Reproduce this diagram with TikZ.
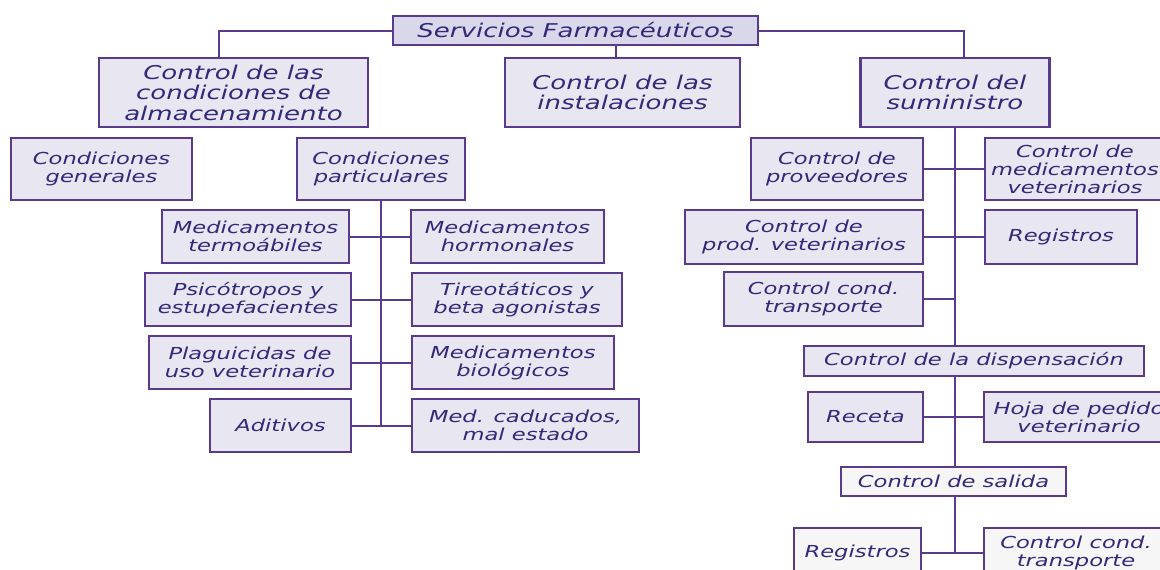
\documentclass[tikz,border=0pt]{standalone}
\usepackage{fontspec}
\setmainfont{DejaVu Sans}[FakeStretch=1.37]
\definecolor{borde}{HTML}{5A3A8C}
\definecolor{relleno}{HTML}{E8E6F1}
\definecolor{rellenoalto}{HTML}{D9D7EA}
\definecolor{rellenoclaro}{HTML}{F6F6F7}
\definecolor{letra}{HTML}{352779}

\begin{document}
\begin{tikzpicture}[x=1pt,y=-1pt,
	caja/.style={draw=borde, line width=2.2pt, fill=relleno, text=letra, align=center, inner sep=0pt, font=\itshape\fontsize{16.5}{18}\selectfont},
	grande/.style={font=\itshape\fontsize{19}{20.5}\selectfont},
	linea/.style={draw=borde, line width=2pt}]

	\useasboundingbox (0,0) rectangle (1160,570);
	\clip (0,0) rectangle (1160,570);

	\node[caja, grande, fill=rellenoalto, minimum width=365, minimum height=29] (serv) at (575.5,30.5) {Servicios Farmacéuticos};
	\node[caja, grande, minimum width=269, minimum height=69] (almac) at (233.5,92.5) {Control de las\\condiciones de\\almacenamiento};
	\node[caja, grande, minimum width=235, minimum height=69] (inst) at (622.5,92.5) {Control de las\\instalaciones};
	\node[caja, grande, minimum width=189, minimum height=69] (sumin) at (955,92.5) {Control del\\suministro};

	\node[caja, minimum width=181, minimum height=62] (cgen) at (101.5,169) {Condiciones\\generales};
	\node[caja, minimum width=168, minimum height=62] (cpart) at (381,169) {Condiciones\\particulares};
	\node[caja, minimum width=187, minimum height=53] (termo) at (255.5,236.5) {Medicamentos\\termoábiles};
	\node[caja, minimum width=193, minimum height=53] (hormo) at (507.5,236.5) {Medicamentos\\hormonales};
	\node[caja, minimum width=206, minimum height=53] (psico) at (248,299.5) {Psicótropos y\\estupefacientes};
	\node[caja, minimum width=210, minimum height=53] (tireo) at (517,299.5) {Tireotáticos y\\beta agonistas};
	\node[caja, minimum width=202, minimum height=53] (plagu) at (250,362.5) {Plaguicidas de\\uso veterinario};
	\node[caja, minimum width=202, minimum height=53] (biolo) at (513,362.5) {Medicamentos\\biológicos};
	\node[caja, minimum width=141, minimum height=53] (aditi) at (280.5,425.5) {Aditivos};
	\node[caja, minimum width=227, minimum height=53] (caduc) at (525.5,425.5) {Med. caducados,\\mal estado};

	\node[caja, minimum width=172, minimum height=62] (prove) at (837,169) {Control de\\proveedores};
	\node[caja, minimum width=180, minimum height=62] (cmedv) at (1075,169) {Control de\\medicamentos\\veterinarios};
	\node[caja, minimum width=238, minimum height=54] (prodv) at (804,237) {Control de\\prod. veterinarios};
	\node[caja, minimum width=152, minimum height=54] (regis) at (1061,237) {Registros};
	\node[caja, minimum width=199, minimum height=54] (ctrans) at (823.5,299) {Control cond.\\transporte};
	\node[caja, minimum width=340, minimum height=30] (dispe) at (974,361) {Control de la dispensación};
	\node[caja, minimum width=115, minimum height=50] (receta) at (865.5,417) {Receta};
	\node[caja, minimum width=190, minimum height=50] (hoja) at (1079,417) {Hoja de pedido\\veterinario};
	\node[caja, fill=rellenoclaro, minimum width=225, minimum height=29] (salida) at (953.5,481.5) {Control de salida};
	\node[caja, fill=rellenoclaro, minimum width=127, minimum height=50] (regis2) at (857.5,553) {Registros};
	\node[caja, fill=rellenoclaro, minimum width=184, minimum height=50] (ctrans2) at (1076,553) {Control cond.\\transporte};

	\coordinate (sb) at ([xshift=40pt]serv.south);
	\draw[linea] (serv.west) -| ([xshift=-14.5pt]almac.north);
	\draw[linea] (sb) -- (sb |- inst.north);
	\draw[linea] (serv.east) -| ([xshift=9pt]sumin.north);

	\draw[linea] (cpart.south) -- (cpart.south |- aditi.east);
	\draw[linea] (termo.east) -- (hormo.west);
	\draw[linea] (psico.east) -- (tireo.west);
	\draw[linea] (plagu.east) -- (biolo.west);
	\draw[linea] (aditi.east) -- (caduc.west);

	\draw[linea] (sumin.south) -- (sumin.south |- dispe.north);
	\draw[linea] (sumin.south |- dispe.south) -- (sumin.south |- salida.north);
	\draw[linea] (sumin.south |- salida.south) -- (sumin.south |- regis2.east);
	\draw[linea] (prove.east) -- (cmedv.west);
	\draw[linea] (prodv.east) -- (regis.west);
	\draw[linea] (ctrans.east) -- (sumin.south |- ctrans.east);
	\draw[linea] (receta.east) -- (hoja.west);
	\draw[linea] (regis2.east) -- (ctrans2.west);

\end{tikzpicture}
\end{document}
